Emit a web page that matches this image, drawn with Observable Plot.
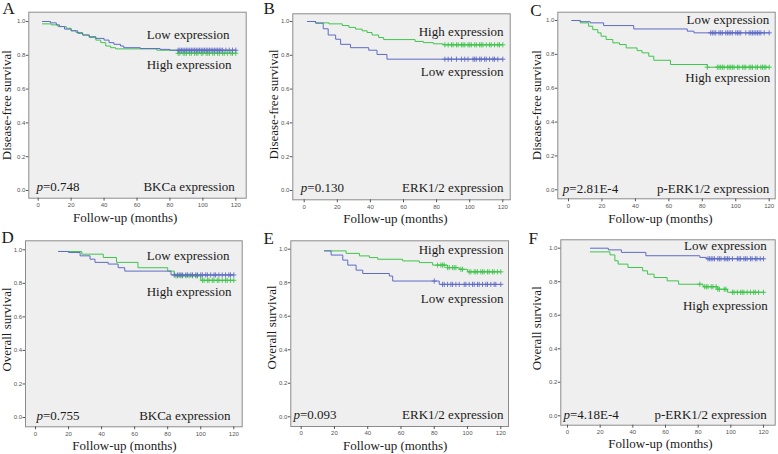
<!DOCTYPE html>
<html><head><meta charset="utf-8">
<script src="https://cdn.jsdelivr.net/npm/d3@7"></script>
<script src="https://cdn.jsdelivr.net/npm/@observablehq/plot@0.6"></script>
<style>
body{margin:0;background:#fff;}
#wrap{position:relative;width:778px;height:454px;overflow:hidden;background:#fff;}
#wrap svg{position:absolute;left:0;top:0;}
</style></head><body><div id="wrap"></div>
<script>
// ---------- text ----------
const panelLetters = ["A","B","C","D","E","F"];
const yTitles = ["Disease-free survival","Disease-free survival","Disease-free survival","Overall survival","Overall survival","Overall survival"];
const xTitle = "Follow-up (months)";
const pValues = ["=0.748","=0.130","=2.81E-4","=0.755","=0.093","=4.18E-4"];
const markerNames = ["BKCa expression","ERK1/2 expression","p-ERK1/2 expression","BKCa expression","ERK1/2 expression","p-ERK1/2 expression"];
const upperLabels = ["Low expression","High expression","Low expression","Low expression","High expression","Low expression"];
const lowerLabels = ["High expression","Low expression","High expression","High expression","Low expression","High expression"];
const xTicks = [0,20,40,60,80,100,120];
const yTicks = [0,0.2,0.4,0.6,0.8,1.0];

// ---------- data (months, survival) ----------
// Panel A – DFS, BKCa
const lowTimesA = [2.6,7.5,11,13,16,20,24,27,31,35,40,43,46,50,52,62,74,80];
const lowSurvA  = [1.0,0.992,0.98,0.97,0.955,0.945,0.93,0.92,0.91,0.90,0.89,0.875,0.865,0.855,0.845,0.84,0.835,0.83];
const lowCensA  = [85,86,87,88,89,90,91,92,93,94,95,96,97,98,99,100,101,102,103,104,105,106,107,108,109,110,111,112,114,116,118,120];
const highTimesA = [2.6,8,12,17,20,23,27,31,35,38,41,44,47,72,85];
const highSurvA  = [0.986,0.98,0.97,0.96,0.945,0.935,0.92,0.905,0.89,0.875,0.855,0.845,0.838,0.83,0.812];
const highCensA  = [85,86,88,89,90,92,93,95,96,97,99,100,102,103,104,106,107,109,110,112,113,115,117,118,120];
// Panel B – DFS, ERK1/2
const lowTimesB = [2,7,11.5,14.5,19,22,28,39,44,50];
const lowSurvB  = [1.0,0.99,0.957,0.92,0.895,0.865,0.845,0.83,0.805,0.777];
const lowCensB  = [85,87,89,92,95,97,99,102,103,104,106,107,109,110,112,114,115,117,120];
const highTimesB = [2,6.7,15,23,27,31,35,38,41,45,48,67,72,78,84];
const highSurvB  = [1.0,0.992,0.986,0.976,0.965,0.955,0.945,0.935,0.92,0.905,0.893,0.882,0.875,0.868,0.862];
const highCensB  = [85,87,89,90,92,93,95,96,97,99,100,101,103,104,106,107,108,110,112,113,115,117,118,120];
// Panel C – DFS, p-ERK1/2
const lowTimesC = [2,7,13,21,39,71,75];
const lowSurvC  = [1.0,0.993,0.986,0.97,0.95,0.937,0.927];
const lowCensC  = [85,86,87,88,90,91,92,94,95,96,97,98,100,101,102,103,106,108,109,110,111,112,113,114,115,117,120];
const highTimesC = [2,7,12,14.5,17.5,19.5,22.5,26.5,30.5,34.5,41,44,48,51,61,83];
const highSurvC  = [1.0,0.986,0.966,0.946,0.927,0.907,0.888,0.868,0.858,0.838,0.822,0.809,0.789,0.765,0.74,0.724];
const highCensC  = [83,89,90,91,92,93,95,96,97,98,99,101,102,104,105,106,108,109,110,112,113,115,116,117,118,120];
// Panel D – OS, BKCa
const lowTimesD = [14,20,27,33,36,44,50,54,82];
const lowSurvD  = [0.99,0.984,0.964,0.944,0.925,0.915,0.893,0.873,0.85];
const lowCensD  = [84,86,87,88,89,91,92,94,95,97,98,100,101,103,104,106,108,109,111,113,115,117,118,120];
const highTimesD = [14,28,41,49,62,80,84,100];
const highSurvD  = [0.99,0.974,0.954,0.925,0.893,0.873,0.845,0.818];
const highCensD  = [85,86,88,89,91,93,95,97,98,101,102,104,105,107,108,110,111,113,115,116,118,120];
// Panel E – OS, ERK1/2
const lowTimesE = [14,18,25,28,33,37,53,55,83];
const lowSurvE  = [0.99,0.965,0.935,0.905,0.875,0.855,0.84,0.81,0.79];
const lowCensE  = [80,85,86,88,90,91,93,95,98,99,101,103,104,106,107,109,111,112,114,116,117,120];
const highTimesE = [14,27,35,41,46,61,71,79,88,95,100];
const highSurvE  = [0.99,0.975,0.96,0.95,0.94,0.93,0.92,0.905,0.89,0.88,0.865];
const highCensE  = [82,84,85,86,88,89,91,92,93,96,97,101,102,104,105,106,108,109,110,112,113,115,116,118,120];
// Panel F – OS, p-ERK1/2
const lowTimesF = [14,25,33,48,81,85];
const lowSurvF  = [1.0,0.99,0.975,0.955,0.945,0.937];
const lowCensF  = [86,87,88,89,90,92,93,94,96,97,98,99,101,104,105,106,108,109,110,112,113,115,116,118,120];
const highTimesF = [14,26,29,31,37,46,49,53,61,68,83,92,98];
const highSurvF  = [0.978,0.96,0.925,0.905,0.885,0.865,0.845,0.825,0.805,0.785,0.77,0.755,0.737];
const highCensF  = [81,84,85,86,88,89,91,92,93,96,97,101,102,104,106,107,108,110,112,114,115,117,120];

const lowSeries = [
  [lowTimesA,lowSurvA,lowCensA],[lowTimesB,lowSurvB,lowCensB],[lowTimesC,lowSurvC,lowCensC],
  [lowTimesD,lowSurvD,lowCensD],[lowTimesE,lowSurvE,lowCensE],[lowTimesF,lowSurvF,lowCensF]];
const highSeries = [
  [highTimesA,highSurvA,highCensA],[highTimesB,highSurvB,highCensB],[highTimesC,highSurvC,highCensC],
  [highTimesD,highSurvD,highCensD],[highTimesE,highSurvE,highCensE],[highTimesF,highSurvF,highCensF]];

// ---------- layout (page pixels) ----------
const layout = [
 {L:28.3,R:245.7,T:11.7,B:197.7, x0:37.7,x120:235.3,y1:21,y0:190,
  letter:[2,13.3], yt:[6.7,104.7], xt:[124.7,221.7], up:[229,38], lo:[231,68], p:[36,190.7], mk:[234.3,190.5]},
 {L:292.3,R:509.7,T:13.3,B:199.3, x0:303.7,x120:502.3,y1:21,y0:190,
  letter:[263,13.3], yt:[273.3,104], xt:[395,222.3], up:[503,35], lo:[503,75], p:[300.3,191], mk:[503,191]},
 {L:557.3,R:774.7,T:11.7,B:198.3, x0:568,x120:768.7,y1:20,y0:189.3,
  letter:[529.7,15], yt:[536.7,104.7], xt:[660,222], up:[768.7,23.3], lo:[769.7,81.7], p:[562.3,192.7], mk:[768.7,192.7]},
 {L:25,R:241.7,T:240.3,B:426.3, x0:35,x120:233.3,y1:249.3,y0:417,
  letter:[1,242], yt:[6.7,329], xt:[124,449.3], up:[229,259.3], lo:[231,295.3], p:[36,419.7], mk:[230,419.7]},
 {L:290.3,R:508,T:240.3,B:426, x0:300.7,x120:500.3,y1:248.7,y0:416.3,
  letter:[263,243], yt:[271.7,327], xt:[394.7,449.3], up:[503,253.7], lo:[503,302], p:[293,418.7], mk:[503,418.7]},
 {L:560.3,R:774.7,T:239.3,B:424.7, x0:567,x120:763,y1:247.7,y0:415.3,
  letter:[528,243], yt:[536.7,327.8], xt:[660,447.7], up:[766.3,249.7], lo:[767.3,309.7], p:[563,418], mk:[766.3,418]}
];

const LOW_COLOR = "#5f6bc6", HIGH_COLOR = "#3fc54c";
const SERIF = "Liberation Serif";
const W = 778, H = 454;

function stepData([t, s, c]) {
  const end = Math.max(t[t.length - 1], ...c);
  const pts = t.map((ti, i) => ({x: ti, y: s[i]}));
  pts.push({x: end, y: s[s.length - 1]});
  return pts;
}
function survAt(t, s, time) {
  let v = s[0];
  for (let i = 0; i < t.length; i++) if (t[i] <= time) v = s[i];
  return v;
}
function censData([t, s, c]) { return c.map(ci => ({x: ci, y: survAt(t, s, ci)})); }

function panel(i) {
  const g = layout[i];
  const kx = (g.x120 - g.x0) / 120, ky = g.y0 - g.y1;
  const xDomain = [(g.L - g.x0) / kx, 120 + (g.R - g.x120) / kx];
  const yDomain = [(g.y0 - g.B) / ky, 1 + (g.y1 - g.T) / ky];
  const at = (p) => ({frameAnchor: "top-left", dx: p[0] - g.L, dy: p[1] - g.T});
  const txt = (s, p, o) => Plot.text([s], {text: d => d, ...at(p), fontFamily: SERIF, fontSize: 13, fill: "#1a1a1a", lineAnchor: "bottom", ...o});
  return Plot.plot({
    width: W, height: H,
    marginLeft: g.L, marginRight: W - g.R, marginTop: g.T, marginBottom: H - g.B,
    x: {domain: xDomain}, y: {domain: yDomain},
    style: {background: "transparent", color: "#555", fontFamily: "Liberation Sans"},
    marks: [
      Plot.frame({fill: "#efefef", stroke: "#8c8c8c"}),
      Plot.axisX({ticks: xTicks, tickSize: 3, tickPadding: 1.5, fontSize: 6, label: null, anchor: "bottom"}),
      Plot.axisY({ticks: yTicks, tickSize: 2.5, tickPadding: 1, fontSize: 6, label: null, anchor: "left", tickFormat: d3.format(".1f")}),
      Plot.line(stepData(highSeries[i]), {x: "x", y: "y", curve: "step-after", stroke: HIGH_COLOR, strokeWidth: 1}),
      Plot.line(stepData(lowSeries[i]), {x: "x", y: "y", curve: "step-after", stroke: LOW_COLOR, strokeWidth: 1}),
      Plot.dot(censData(highSeries[i]), {x: "x", y: "y", symbol: "plus", r: 1.8, stroke: HIGH_COLOR, strokeWidth: 0.9}),
      Plot.dot(censData(lowSeries[i]), {x: "x", y: "y", symbol: "plus", r: 1.8, stroke: LOW_COLOR, strokeWidth: 0.9}),
      txt(panelLetters[i], g.letter, {fontSize: 17, textAnchor: "start"}),
      txt(yTitles[i], g.yt, {rotate: -90, textAnchor: "middle", lineAnchor: "middle"}),
      txt(xTitle, g.xt, {textAnchor: "middle"}),
      txt(upperLabels[i], g.up, {textAnchor: "end"}),
      txt(lowerLabels[i], g.lo, {textAnchor: "end"}),
      txt("p", g.p, {textAnchor: "start", fontStyle: "italic"}),
      txt(pValues[i], [g.p[0] + 6.5, g.p[1]], {textAnchor: "start"}),
      txt(markerNames[i], g.mk, {textAnchor: "end"})
    ]
  });
}

const wrap = document.getElementById("wrap");
for (let i = 0; i < 6; i++) wrap.appendChild(panel(i));
</script>
</body></html>
